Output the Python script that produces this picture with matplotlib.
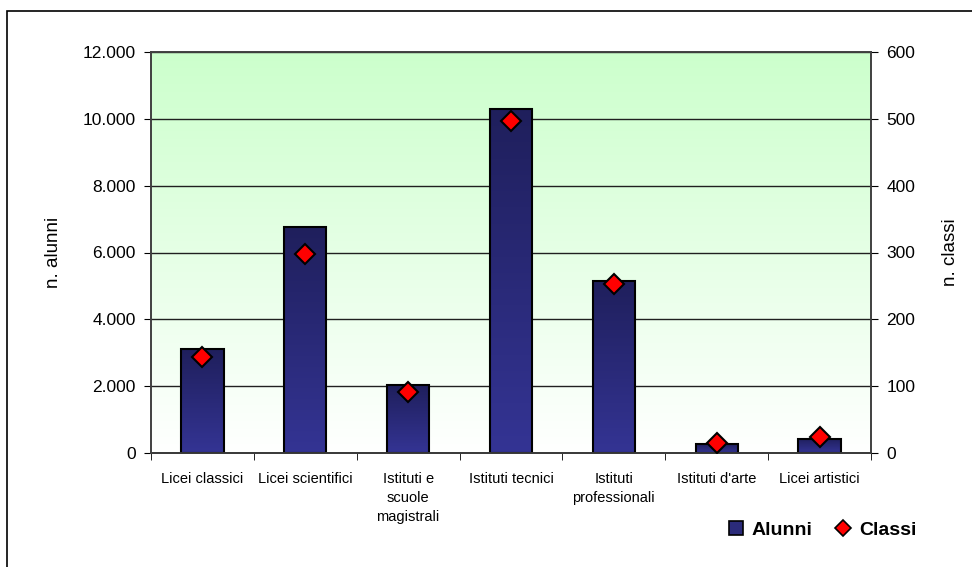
import numpy as np
import matplotlib
matplotlib.use("Agg")
import matplotlib.pyplot as plt
from matplotlib.ticker import FuncFormatter, FixedLocator
from matplotlib.patches import Rectangle
from matplotlib.lines import Line2D
from matplotlib.colors import LinearSegmentedColormap

plt.rcParams['font.family'] = ['Liberation Sans', 'DejaVu Sans']

# Dati: alunni e classi per tipo di scuola
categorie = ["Licei classici", "Licei scientifici", "Istituti e\nscuole\nmagistrali",
             "Istituti tecnici", "Istituti\nprofessionali", "Istituti d'arte", "Licei artistici"]
alunni = [3110, 6760, 2020, 10290, 5150, 260, 430]
classi = [144, 298, 92, 497, 253, 15, 24]

fig = plt.figure(figsize=(9.72, 5.67), dpi=100)
ax = fig.add_axes([151 / 972, 1 - 453 / 567, 720 / 972, 401 / 567])
ax2 = ax.twinx()

x = np.arange(len(categorie))
ax.set_xlim(-0.5, len(categorie) - 0.5)
ax.set_ylim(0, 12000)
ax2.set_ylim(0, 600)

# sfondo sfumato verde -> bianco
bg = LinearSegmentedColormap.from_list("bg", ["#ffffff", "#ccffcc"])
grad = np.linspace(0, 1, 256).reshape(-1, 1)
ax.imshow(grad, cmap=bg, origin="lower", aspect="auto",
          extent=[-0.5, len(categorie) - 0.5, 0, 12000], zorder=0)

# griglia orizzontale
for yv in range(2000, 12001, 2000):
    ax.axhline(yv, color="#202020", lw=1.0, zorder=1)

# barre con sfumatura blu
barcmap = LinearSegmentedColormap.from_list("bar", ["#343494", "#1f1f5c"])
bars = ax.bar(x, alunni, width=0.41, facecolor="none", edgecolor="black", lw=1.5, zorder=3)
for b in bars:
    bx, by, bw, bh = b.get_x(), b.get_y(), b.get_width(), b.get_height()
    im = ax.imshow(grad, cmap=barcmap, origin="lower", aspect="auto",
                   extent=[bx, bx + bw, by, by + bh], zorder=2)
    im.set_clip_path(b)
ax.set_xlim(-0.5, len(categorie) - 0.5)
ax.set_ylim(0, 12000)

# classi: rombi rossi sull'asse destro
ax2.plot(x, classi, linestyle="none", marker="D", markersize=10.5,
         markerfacecolor="#ff0000", markeredgecolor="black", markeredgewidth=1.5, zorder=5)

fmt = FuncFormatter(lambda v, p: f"{int(v):,}".replace(",", "."))
ax.yaxis.set_major_formatter(fmt)
ax.set_yticks(range(0, 12001, 2000))
ax2.set_yticks(range(0, 601, 100))
ax.tick_params(axis="y", labelsize=12.5, length=5, direction="out", pad=6)
ax2.tick_params(axis="y", labelsize=12.5, length=5, direction="out", pad=6)

ax.set_xticks(x)
ax.set_xticklabels(categorie, fontsize=10.5, linespacing=1.45, va="top")
ax.tick_params(axis="x", length=0, pad=14)
ax.xaxis.set_minor_locator(FixedLocator(np.arange(-0.5, len(categorie), 1)))
ax.tick_params(axis="x", which="minor", length=5, direction="out")

for a in (ax, ax2):
    for s in a.spines.values():
        s.set_color("#404040")
        s.set_linewidth(1.2)
ax.spines["bottom"].set_color("black")

ax.set_ylabel("n. alunni", fontsize=13.5)
ax.yaxis.set_label_coords(-0.124, 0.5)
ax2.set_ylabel("n. classi", fontsize=13.5, rotation=90)
ax2.yaxis.set_label_coords(1.099, 0.5)

handles = [
    Line2D([], [], linestyle="none", marker="s", markersize=10,
           markerfacecolor="#2b2b7a", markeredgecolor="black", markeredgewidth=1.2),
    Line2D([], [], linestyle="none", marker="D", markersize=8,
           markerfacecolor="#ff0000", markeredgecolor="black", markeredgewidth=1.2),
]
fig.legend(handles, ["Alunni", "Classi"], loc="center", bbox_to_anchor=(822 / 972, 1 - 530 / 567),
           ncol=2, frameon=False, prop={"weight": "bold", "size": 14},
           handlelength=0.8, handletextpad=0.4, columnspacing=1.2)

# cornice esterna
fig.add_artist(Rectangle((6.5 / 972, -0.1), 1.2, 1 - 10.5 / 567 + 0.1, transform=fig.transFigure,
                         fill=False, edgecolor="black", lw=1.2))

fig.savefig("out.png", dpi=100)
